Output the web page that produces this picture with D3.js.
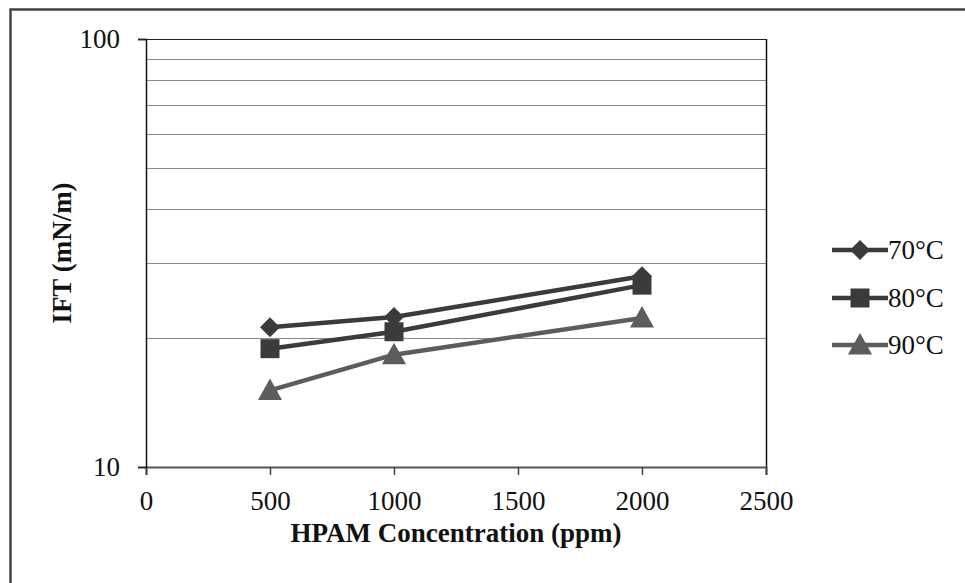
<!DOCTYPE html>
<html><head><meta charset="utf-8">
<script src="https://cdn.jsdelivr.net/npm/d3@7/dist/d3.min.js"></script>
<style>body{margin:0;background:#fff;} svg{display:block;}</style>
</head><body>
<svg id="c" width="965" height="583"></svg>
<script>
const concentrations = [500, 1000, 2000];
const series = [
  {name: "70°C", values: [21.2, 22.4, 27.9], color: "#3b3b3b", marker: "diamond"},
  {name: "80°C", values: [18.9, 20.7, 26.6], color: "#3b3b3b", marker: "square"},
  {name: "90°C", values: [15.1, 18.3, 22.3], color: "#5c5c5c", marker: "triangle"}
];
const xTicks = [0, 500, 1000, 1500, 2000, 2500];
const yTicks = [10, 100];
const yGrid = [20, 30, 40, 50, 60, 70, 80, 90, 100];

const svg = d3.select("#c");
const font = "'Liberation Serif','Times New Roman',serif";
const L = 146, R = 766, T = 39, B = 467;

svg.append("rect").attr("x", 10.5).attr("y", 9.5).attr("width", 1000).attr("height", 1000)
  .attr("fill", "#fff").attr("stroke", "#444").attr("stroke-width", 2.5);

const x = d3.scaleLinear().domain([0, 2500]).range([L, R]);
const y = d3.scaleLog().domain([10, 100]).range([B, T]);

// gridlines
svg.append("g").selectAll("line").data(yGrid).join("line")
  .attr("x1", L).attr("x2", R)
  .attr("y1", d => Math.round(y(d)) + 0.5).attr("y2", d => Math.round(y(d)) + 0.5)
  .attr("stroke", d => d === 100 ? "#222" : "#8a8a8a").attr("stroke-width", 1.2);

// right border
svg.append("line").attr("x1", R + 0.5).attr("x2", R + 0.5).attr("y1", T).attr("y2", B)
  .attr("stroke", "#111").attr("stroke-width", 1.5);

// x axis
const xAxis = svg.append("g").attr("transform", `translate(0,${B})`)
  .call(d3.axisBottom(x).tickValues(xTicks).tickSize(8).tickPadding(16).tickFormat(d3.format("d")));
xAxis.select(".domain").attr("stroke", "#555").attr("stroke-width", 2);
xAxis.selectAll(".tick line").attr("stroke", "#444").attr("stroke-width", 1.5);
xAxis.selectAll("text").attr("font-family", font).attr("font-size", 27).attr("fill", "#111");

// y axis
const yAxis = svg.append("g").attr("transform", `translate(${L},0)`)
  .call(d3.axisLeft(y).tickValues(yTicks).tickSize(8).tickPadding(18).tickFormat(d3.format("d")));
yAxis.select(".domain").attr("stroke", "#111").attr("stroke-width", 1.5);
yAxis.selectAll(".tick line").attr("stroke", "#222").attr("stroke-width", 1.5);
yAxis.selectAll("text").attr("font-family", font).attr("font-size", 27).attr("fill", "#111");

// titles
svg.append("text").attr("x", (L + R) / 2).attr("y", 542).attr("text-anchor", "middle")
  .attr("font-family", font).attr("font-weight", "bold").attr("font-size", 27).attr("fill", "#111")
  .text("HPAM Concentration (ppm)");
svg.append("text").attr("transform", `translate(71,${(T + B) / 2}) rotate(-90)`).attr("text-anchor", "middle")
  .attr("font-family", font).attr("font-weight", "bold").attr("font-size", 27).attr("fill", "#111")
  .text("IFT (mN/m)");

function markerPath(type) {
  if (type === "diamond") return "M0,-10L10,0L0,10L-10,0Z";
  if (type === "square") return "M-9.5,-9.5H9.5V9.5H-9.5Z";
  return "M0,-12L12,9.5H-12Z";
}

const line = d3.line().x((d, i) => x(concentrations[i])).y(d => y(d));
series.forEach(s => {
  svg.append("path").attr("d", line(s.values)).attr("fill", "none")
    .attr("stroke", s.color).attr("stroke-width", 4.5);
});
series.forEach(s => {
  svg.append("g").selectAll("path").data(s.values).join("path")
    .attr("transform", (d, i) => `translate(${x(concentrations[i])},${y(d)})`)
    .attr("d", markerPath(s.marker)).attr("fill", s.color);
});

// legend
const legY = [250, 298, 345];
series.forEach((s, i) => {
  const g = svg.append("g").attr("transform", `translate(832,${legY[i]})`);
  g.append("line").attr("x1", 0).attr("x2", 56).attr("stroke", s.color).attr("stroke-width", 4.5);
  g.append("path").attr("transform", "translate(28,0)").attr("d", markerPath(s.marker)).attr("fill", s.color);
  g.append("text").attr("x", 56).attr("y", 9).attr("font-family", font).attr("font-size", 27).attr("fill", "#111").text(s.name);
});
</script>
</body></html>
